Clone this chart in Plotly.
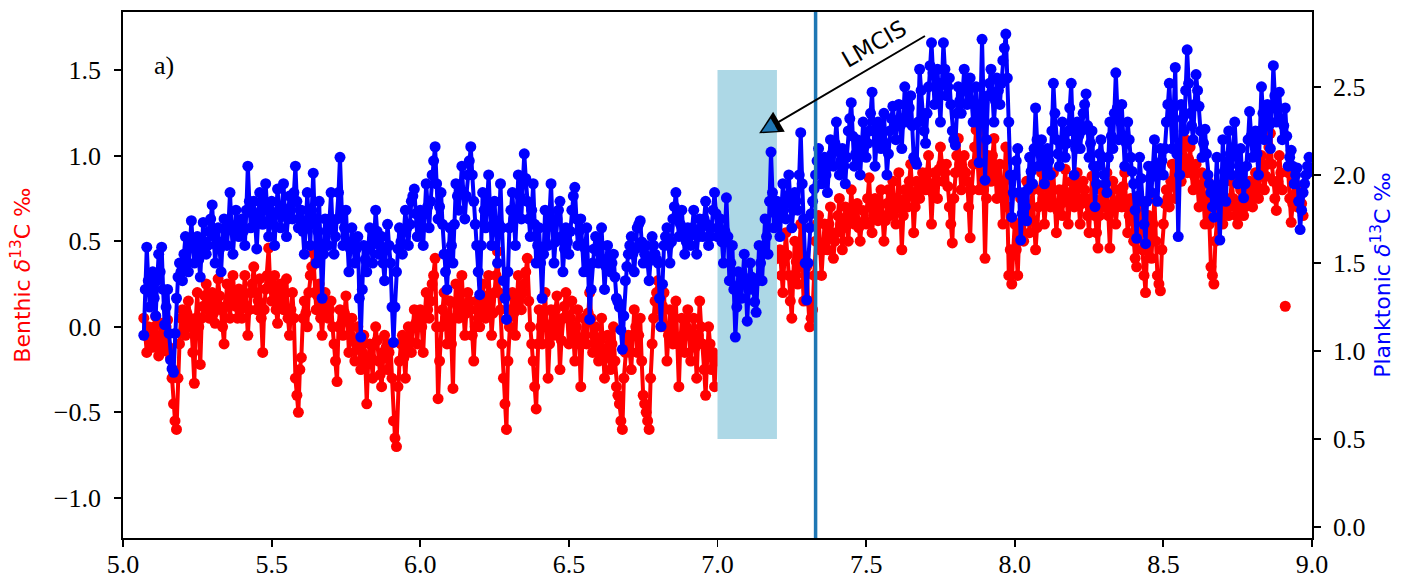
import plotly.graph_objects as go

# ---------------- data ----------------
benthic_age = [
    5.070, 5.075, 5.080, 5.085, 5.090, 5.095,
    5.100, 5.105, 5.110, 5.115, 5.120, 5.125, 5.130, 5.135, 5.140, 5.145, 5.150, 5.155, 5.160, 5.165, 5.170, 5.175, 5.180, 5.185, 5.190, 5.195,
    5.200, 5.205, 5.210, 5.215, 5.220, 5.225, 5.230, 5.235, 5.240, 5.245, 5.250, 5.255, 5.260, 5.265, 5.270, 5.275, 5.280, 5.285, 5.290, 5.295,
    5.300, 5.305, 5.310, 5.315, 5.320, 5.325, 5.330, 5.335, 5.340, 5.345, 5.350, 5.355, 5.360, 5.365, 5.370, 5.375, 5.380, 5.385, 5.390, 5.395,
    5.400, 5.405, 5.410, 5.415, 5.420, 5.425, 5.430, 5.435, 5.440, 5.445, 5.450, 5.455, 5.460, 5.465, 5.470, 5.475, 5.480, 5.485, 5.490, 5.495,
    5.500, 5.505, 5.510, 5.515, 5.520, 5.525, 5.530, 5.535, 5.540, 5.545, 5.550, 5.555, 5.560, 5.565, 5.570, 5.575, 5.580, 5.585, 5.590, 5.595,
    5.600, 5.605, 5.610, 5.615, 5.620, 5.625, 5.630, 5.635, 5.640, 5.645, 5.650, 5.655, 5.660, 5.665, 5.670, 5.675, 5.680, 5.685, 5.690, 5.695,
    5.700, 5.705, 5.710, 5.715, 5.720, 5.725, 5.730, 5.735, 5.740, 5.745, 5.750, 5.755, 5.760, 5.765, 5.770, 5.775, 5.780, 5.785, 5.790, 5.795,
    5.800, 5.805, 5.810, 5.815, 5.820, 5.825, 5.830, 5.835, 5.840, 5.845, 5.850, 5.855, 5.860, 5.865, 5.870, 5.875, 5.880, 5.885, 5.890, 5.895,
    5.900, 5.905, 5.910, 5.915, 5.920, 5.925, 5.930, 5.935, 5.940, 5.945, 5.950, 5.955, 5.960, 5.965, 5.970, 5.975, 5.980, 5.985, 5.990, 5.995,
    6.000, 6.005, 6.010, 6.015, 6.020, 6.025, 6.030, 6.035, 6.040, 6.045, 6.050, 6.055, 6.060, 6.065, 6.070, 6.075, 6.080, 6.085, 6.090, 6.095,
    6.100, 6.105, 6.110, 6.115, 6.120, 6.125, 6.130, 6.135, 6.140, 6.145, 6.150, 6.155, 6.160, 6.165, 6.170, 6.175, 6.180, 6.185, 6.190, 6.195,
    6.200, 6.205, 6.210, 6.215, 6.220, 6.225, 6.230, 6.235, 6.240, 6.245, 6.250, 6.255, 6.260, 6.265, 6.270, 6.275, 6.280, 6.285, 6.290, 6.295,
    6.300, 6.305, 6.310, 6.315, 6.320, 6.325, 6.330, 6.335, 6.340, 6.345, 6.350, 6.355, 6.360, 6.365, 6.370, 6.375, 6.380, 6.385, 6.390, 6.395,
    6.400, 6.405, 6.410, 6.415, 6.420, 6.425, 6.430, 6.435, 6.440, 6.445, 6.450, 6.455, 6.460, 6.465, 6.470, 6.475, 6.480, 6.485, 6.490, 6.495,
    6.500, 6.505, 6.510, 6.515, 6.520, 6.525, 6.530, 6.535, 6.540, 6.545, 6.550, 6.555, 6.560, 6.565, 6.570, 6.575, 6.580, 6.585, 6.590, 6.595,
    6.600, 6.605, 6.610, 6.615, 6.620, 6.625, 6.630, 6.635, 6.640, 6.645, 6.650, 6.655, 6.660, 6.665, 6.670, 6.675, 6.680, 6.685, 6.690, 6.695,
    6.700, 6.705, 6.710, 6.715, 6.720, 6.725, 6.730, 6.735, 6.740, 6.745, 6.750, 6.755, 6.760, 6.765, 6.770, 6.775, 6.780, 6.785, 6.790, 6.795,
    6.800, 6.805, 6.810, 6.815, 6.820, 6.825, 6.830, 6.835, 6.840, 6.845, 6.850, 6.855, 6.860, 6.865, 6.870, 6.875, 6.880, 6.885, 6.890, 6.895,
    6.900, 6.905, 6.910, 6.915, 6.920, 6.925, 6.930, 6.935, 6.940, 6.945, 6.950, 6.955, 6.960, 6.965, 6.970, 6.975, 6.980, 6.985, 6.990, 6.995,
    7.205, 7.210, 7.215, 7.220, 7.225, 7.230, 7.235, 7.240, 7.245, 7.250, 7.255, 7.260, 7.265, 7.270, 7.275, 7.280, 7.285, 7.290, 7.295,
    7.300, 7.305, 7.310, 7.315, 7.320, 7.325, 7.330, 7.335, 7.340, 7.345, 7.350, 7.355, 7.360, 7.365, 7.370, 7.375, 7.380, 7.385, 7.390, 7.395,
    7.400, 7.405, 7.410, 7.415, 7.420, 7.425, 7.430, 7.435, 7.440, 7.445, 7.450, 7.455, 7.460, 7.465, 7.470, 7.475, 7.480, 7.485, 7.490, 7.495,
    7.500, 7.505, 7.510, 7.515, 7.520, 7.525, 7.530, 7.535, 7.540, 7.545, 7.550, 7.555, 7.560, 7.565, 7.570, 7.575, 7.580, 7.585, 7.590, 7.595,
    7.600, 7.605, 7.610, 7.615, 7.620, 7.625, 7.630, 7.635, 7.640, 7.645, 7.650, 7.655, 7.660, 7.665, 7.670, 7.675, 7.680, 7.685, 7.690, 7.695,
    7.700, 7.705, 7.710, 7.715, 7.720, 7.725, 7.730, 7.735, 7.740, 7.745, 7.750, 7.755, 7.760, 7.765, 7.770, 7.775, 7.780, 7.785, 7.790, 7.795,
    7.800, 7.805, 7.810, 7.815, 7.820, 7.825, 7.830, 7.835, 7.840, 7.845, 7.850, 7.855, 7.860, 7.865, 7.870, 7.875, 7.880, 7.885, 7.890, 7.895,
    7.900, 7.905, 7.910, 7.915, 7.920, 7.925, 7.930, 7.935, 7.940, 7.945, 7.950, 7.955, 7.960, 7.965, 7.970, 7.975, 7.980, 7.985, 7.990, 7.995,
    8.000, 8.005, 8.010, 8.015, 8.020, 8.025, 8.030, 8.035, 8.040, 8.045, 8.050, 8.055, 8.060, 8.065, 8.070, 8.075, 8.080, 8.085, 8.090, 8.095,
    8.100, 8.105, 8.110, 8.115, 8.120, 8.125, 8.130, 8.135, 8.140, 8.145, 8.150, 8.155, 8.160, 8.165, 8.170, 8.175, 8.180, 8.185, 8.190, 8.195,
    8.200, 8.205, 8.210, 8.215, 8.220, 8.225, 8.230, 8.235, 8.240, 8.245, 8.250, 8.255, 8.260, 8.265, 8.270, 8.275, 8.280, 8.285, 8.290, 8.295,
    8.300, 8.305, 8.310, 8.315, 8.320, 8.325, 8.330, 8.335, 8.340, 8.345, 8.350, 8.355, 8.360, 8.365, 8.370, 8.375, 8.380, 8.385, 8.390, 8.395,
    8.400, 8.405, 8.410, 8.415, 8.420, 8.425, 8.430, 8.435, 8.440, 8.445, 8.450, 8.455, 8.460, 8.465, 8.470, 8.475, 8.480, 8.485, 8.490, 8.495,
    8.500, 8.505, 8.510, 8.515, 8.520, 8.525, 8.530, 8.535, 8.540, 8.545, 8.550, 8.555, 8.560, 8.565, 8.570, 8.575, 8.580, 8.585, 8.590, 8.595,
    8.600, 8.605, 8.610, 8.615, 8.620, 8.625, 8.630, 8.635, 8.640, 8.645, 8.650, 8.655, 8.660, 8.665, 8.670, 8.675, 8.680, 8.685, 8.690, 8.695,
    8.700, 8.705, 8.710, 8.715, 8.720, 8.725, 8.730, 8.735, 8.740, 8.745, 8.750, 8.755, 8.760, 8.765, 8.770, 8.775, 8.780, 8.785, 8.790, 8.795,
    8.800, 8.805, 8.810, 8.815, 8.820, 8.825, 8.830, 8.835, 8.840, 8.845, 8.850, 8.855, 8.860, 8.865, 8.870, 8.875, 8.880, 8.885, 8.890, 8.895,
    8.900, 8.905, 8.910, 8.915, 8.920, 8.925, 8.930, 8.935, 8.940, 8.945, 8.950, 8.955, 8.960, 8.965, 8.970,
]
benthic_d13c = [
    0.05, -0.05, -0.15, 0.00, -0.02, -0.10,
    -0.12, 0.00, 0.06, -0.08, -0.17, -0.05, 0.02, -0.10, -0.14, 0.00, 0.04, -0.12, -0.18, -0.30, -0.45, -0.55, -0.60, -0.30, -0.10, 0.05,
    0.10, -0.02, -0.05, 0.08, 0.15, 0.05, 0.00, -0.15, -0.33, 0.05, 0.20, 0.00, -0.22, 0.05, 0.12, 0.18, 0.25, 0.10, 0.05, 0.15,
    0.20, 0.08, 0.02, 0.15, 0.28, 0.18, 0.10, 0.00, -0.10, 0.12, 0.25, 0.15, 0.05, 0.20, 0.30, 0.18, 0.12, 0.05, 0.22, 0.10,
    0.05, 0.18, 0.30, 0.12, -0.05, 0.10, 0.20, 0.25, 0.35, 0.20, 0.10, 0.15, 0.28, 0.05, -0.15, 0.10, 0.22, 0.30, 0.46, 0.25,
    0.15, 0.22, 0.30, 0.10, 0.02, 0.18, 0.25, 0.12, 0.10, 0.20, 0.28, 0.05, -0.05, 0.10, 0.20, 0.05, -0.30, -0.40, -0.50, -0.25,
    -0.18, 0.05, 0.15, 0.08, 0.00, 0.20, 0.30, 0.35, 0.43, 0.20, 0.10, 0.18, 0.25, 0.05, -0.05, 0.10, 0.20, 0.12, 0.05, 0.10,
    0.15, 0.00, -0.10, -0.20, -0.32, 0.00, 0.10, 0.02, -0.05, 0.08, 0.18, 0.05, -0.15, -0.05, 0.05, -0.08, -0.20, -0.10, 0.00, -0.12,
    -0.25, -0.15, -0.05, -0.20, -0.45, -0.20, -0.10, -0.18, -0.30, -0.10, 0.00, -0.08, -0.20, -0.28, -0.35, -0.15, -0.05, -0.12, -0.25, -0.15,
    -0.10, -0.30, -0.55, -0.65, -0.70, -0.35, -0.20, -0.10, -0.05, -0.18, -0.30, -0.12, 0.00, -0.08, -0.15, 0.00, 0.10, 0.02, -0.10, 0.05,
    0.10, 0.00, -0.15, 0.05, 0.20, 0.10, 0.05, 0.15, 0.25, 0.30, 0.40, 0.00, -0.42, -0.20, 0.00, 0.10, 0.20, 0.05, -0.10, 0.05,
    0.15, -0.10, -0.36, 0.05, 0.25, 0.12, 0.05, 0.20, 0.30, 0.10, -0.05, 0.08, 0.20, 0.15, 0.10, -0.05, -0.20, 0.00, 0.15, 0.05,
    0.00, 0.12, 0.25, 0.10, 0.05, 0.18, 0.30, 0.15, -0.05, 0.08, 0.20, 0.30, 0.44, 0.20, 0.10, -0.10, -0.30, -0.45, -0.60, -0.20,
    0.00, 0.10, 0.20, 0.08, -0.05, 0.15, 0.30, 0.18, 0.10, 0.20, 0.25, 0.32, 0.40, 0.15, 0.00, -0.10, -0.20, -0.35, -0.48, -0.10,
    0.10, 0.00, -0.10, 0.08, 0.20, 0.00, -0.30, -0.10, 0.10, 0.02, -0.05, 0.10, 0.18, 0.00, -0.25, -0.08, 0.05, 0.12, 0.20, 0.05,
    -0.10, 0.05, 0.15, -0.05, -0.20, 0.00, 0.10, -0.10, -0.35, -0.10, 0.05, -0.05, -0.10, 0.08, 0.20, 0.05, -0.15, -0.05, 0.00, -0.12,
    -0.20, -0.08, 0.05, -0.15, -0.30, -0.15, -0.05, -0.18, -0.25, -0.10, 0.00, -0.20, -0.35, -0.40, -0.45, -0.55, -0.60, -0.30, -0.15, -0.08,
    -0.05, -0.15, -0.25, -0.05, 0.10, 0.00, -0.15, -0.05, 0.05, -0.20, -0.40, -0.45, -0.50, -0.55, -0.60, -0.30, -0.10, 0.05, 0.15, 0.20,
    0.27, 0.10, 0.00, 0.12, 0.20, 0.00, -0.20, -0.05, 0.10, 0.00, -0.10, 0.05, 0.15, -0.10, -0.35, -0.10, 0.05, -0.05, -0.15, 0.00,
    0.10, -0.05, -0.20, -0.05, 0.05, -0.12, -0.30, -0.05, 0.15, 0.00, -0.10, -0.25, -0.40, -0.15, 0.00, -0.10, -0.25, -0.15, -0.35, -0.20,
    0.40, 0.45, 0.30, 0.20, 0.40, 0.55, 0.42, 0.30, 0.15, 0.05, 0.30, 0.50, 0.38, 0.25, 0.45, 0.60, 0.35, 0.15, 0.30,
    0.35, 0.15, 0.00, 0.05, 0.10, 0.30, 0.50, 0.60, 0.65, 0.45, 0.30, 0.45, 0.60, 0.50, 0.45, 0.60, 0.70, 0.55, 0.40, 0.50,
    0.55, 0.65, 0.75, 0.60, 0.45, 0.58, 0.70, 0.62, 0.50, 0.65, 0.80, 0.68, 0.60, 0.70, 0.72, 0.58, 0.50, 0.60, 0.68, 0.62,
    0.60, 0.75, 0.87, 0.70, 0.55, 0.65, 0.75, 0.68, 0.62, 0.72, 0.80, 0.65, 0.50, 0.62, 0.72, 0.80, 0.65, 0.75, 0.85, 0.70,
    0.60, 0.75, 0.90, 0.70, 0.45, 0.65, 0.80, 0.75, 0.70, 0.85, 0.95, 0.78, 0.55, 0.70, 0.85, 0.80, 0.75, 0.82, 0.90, 0.85,
    0.80, 0.90, 1.00, 0.80, 0.60, 0.78, 0.90, 0.85, 0.75, 0.92, 1.05, 0.95, 0.85, 0.90, 0.95, 0.82, 0.70, 0.60, 0.49, 0.75,
    0.90, 1.00, 1.10, 0.95, 0.80, 0.92, 1.00, 0.90, 0.85, 0.70, 0.52, 0.80, 0.95, 1.05, 1.15, 0.98, 0.80, 1.00, 1.19, 0.80,
    0.40, 0.75, 1.00, 0.92, 0.85, 1.00, 1.10, 0.90, 0.75, 0.85, 0.95, 0.80, 0.60, 0.85, 1.05, 0.70, 0.30, 0.45, 0.25, 0.45,
    0.60, 0.45, 0.30, 0.55, 0.75, 0.62, 0.50, 0.70, 0.85, 0.68, 0.55, 0.70, 0.80, 0.62, 0.45, 0.58, 0.70, 0.80, 0.90, 0.75,
    0.60, 0.72, 0.85, 0.75, 0.70, 0.80, 0.90, 0.72, 0.55, 0.68, 0.80, 0.72, 0.65, 0.80, 0.92, 0.75, 0.60, 0.72, 0.85, 0.78,
    0.70, 0.82, 0.90, 0.72, 0.60, 0.72, 0.85, 0.80, 0.75, 0.65, 0.55, 0.72, 0.88, 0.75, 0.65, 0.55, 0.46, 0.65, 0.80, 0.75,
    0.70, 0.80, 0.90, 0.65, 0.46, 0.68, 0.85, 0.72, 0.60, 0.70, 0.80, 0.75, 0.70, 0.82, 0.90, 0.70, 0.55, 0.65, 0.75, 0.62,
    0.50, 0.40, 0.35, 0.55, 0.70, 0.55, 0.45, 0.30, 0.20, 0.45, 0.65, 0.50, 0.40, 0.60, 0.75, 0.50, 0.30, 0.25, 0.21, 0.45,
    0.60, 0.72, 0.80, 0.75, 0.70, 0.85, 0.95, 0.82, 0.75, 0.90, 1.00, 0.92, 0.85, 0.98, 1.10, 0.95, 0.90, 0.98, 1.05, 0.90,
    0.80, 0.88, 0.95, 0.82, 0.70, 0.82, 0.90, 0.75, 0.60, 0.75, 0.85, 0.60, 0.35, 0.30, 0.25, 0.50, 0.65, 0.72, 0.80, 0.70,
    0.60, 0.68, 0.75, 0.70, 0.65, 0.75, 0.85, 0.75, 0.70, 0.65, 0.60, 0.70, 0.80, 0.72, 0.65, 0.70, 0.75, 0.80, 0.85, 0.78,
    0.70, 0.80, 0.90, 0.82, 0.75, 0.88, 1.00, 0.90, 0.80, 0.88, 0.95, 1.05, 1.13, 0.95, 0.85, 0.75, 0.68, 0.85, 1.00, 0.90,
    0.80, None, 0.12, None, 0.90, 0.75, 0.61, 0.72, 0.85, 0.78, 0.70, 0.75, 0.80, 0.72, 0.65,
]

planktonic_age = [
    5.070, 5.075, 5.080, 5.085, 5.090, 5.095,
    5.100, 5.105, 5.110, 5.115, 5.120, 5.125, 5.130, 5.135, 5.140, 5.145, 5.150, 5.155, 5.160, 5.165, 5.170, 5.175, 5.180, 5.185, 5.190, 5.195,
    5.200, 5.205, 5.210, 5.215, 5.220, 5.225, 5.230, 5.235, 5.240, 5.245, 5.250, 5.255, 5.260, 5.265, 5.270, 5.275, 5.280, 5.285, 5.290, 5.295,
    5.300, 5.305, 5.310, 5.315, 5.320, 5.325, 5.330, 5.335, 5.340, 5.345, 5.350, 5.355, 5.360, 5.365, 5.370, 5.375, 5.380, 5.385, 5.390, 5.395,
    5.400, 5.405, 5.410, 5.415, 5.420, 5.425, 5.430, 5.435, 5.440, 5.445, 5.450, 5.455, 5.460, 5.465, 5.470, 5.475, 5.480, 5.485, 5.490, 5.495,
    5.500, 5.505, 5.510, 5.515, 5.520, 5.525, 5.530, 5.535, 5.540, 5.545, 5.550, 5.555, 5.560, 5.565, 5.570, 5.575, 5.580, 5.585, 5.590, 5.595,
    5.600, 5.605, 5.610, 5.615, 5.620, 5.625, 5.630, 5.635, 5.640, 5.645, 5.650, 5.655, 5.660, 5.665, 5.670, 5.675, 5.680, 5.685, 5.690, 5.695,
    5.700, 5.705, 5.710, 5.715, 5.720, 5.725, 5.730, 5.735, 5.740, 5.745, 5.750, 5.755, 5.760, 5.765, 5.770, 5.775, 5.780, 5.785, 5.790, 5.795,
    5.800, 5.805, 5.810, 5.815, 5.820, 5.825, 5.830, 5.835, 5.840, 5.845, 5.850, 5.855, 5.860, 5.865, 5.870, 5.875, 5.880, 5.885, 5.890, 5.895,
    5.900, 5.905, 5.910, 5.915, 5.920, 5.925, 5.930, 5.935, 5.940, 5.945, 5.950, 5.955, 5.960, 5.965, 5.970, 5.975, 5.980, 5.985, 5.990, 5.995,
    6.000, 6.005, 6.010, 6.015, 6.020, 6.025, 6.030, 6.035, 6.040, 6.045, 6.050, 6.055, 6.060, 6.065, 6.070, 6.075, 6.080, 6.085, 6.090, 6.095,
    6.100, 6.105, 6.110, 6.115, 6.120, 6.125, 6.130, 6.135, 6.140, 6.145, 6.150, 6.155, 6.160, 6.165, 6.170, 6.175, 6.180, 6.185, 6.190, 6.195,
    6.200, 6.205, 6.210, 6.215, 6.220, 6.225, 6.230, 6.235, 6.240, 6.245, 6.250, 6.255, 6.260, 6.265, 6.270, 6.275, 6.280, 6.285, 6.290, 6.295,
    6.300, 6.305, 6.310, 6.315, 6.320, 6.325, 6.330, 6.335, 6.340, 6.345, 6.350, 6.355, 6.360, 6.365, 6.370, 6.375, 6.380, 6.385, 6.390, 6.395,
    6.400, 6.405, 6.410, 6.415, 6.420, 6.425, 6.430, 6.435, 6.440, 6.445, 6.450, 6.455, 6.460, 6.465, 6.470, 6.475, 6.480, 6.485, 6.490, 6.495,
    6.500, 6.505, 6.510, 6.515, 6.520, 6.525, 6.530, 6.535, 6.540, 6.545, 6.550, 6.555, 6.560, 6.565, 6.570, 6.575, 6.580, 6.585, 6.590, 6.595,
    6.600, 6.605, 6.610, 6.615, 6.620, 6.625, 6.630, 6.635, 6.640, 6.645, 6.650, 6.655, 6.660, 6.665, 6.670, 6.675, 6.680, 6.685, 6.690, 6.695,
    6.700, 6.705, 6.710, 6.715, 6.720, 6.725, 6.730, 6.735, 6.740, 6.745, 6.750, 6.755, 6.760, 6.765, 6.770, 6.775, 6.780, 6.785, 6.790, 6.795,
    6.800, 6.805, 6.810, 6.815, 6.820, 6.825, 6.830, 6.835, 6.840, 6.845, 6.850, 6.855, 6.860, 6.865, 6.870, 6.875, 6.880, 6.885, 6.890, 6.895,
    6.900, 6.905, 6.910, 6.915, 6.920, 6.925, 6.930, 6.935, 6.940, 6.945, 6.950, 6.955, 6.960, 6.965, 6.970, 6.975, 6.980, 6.985, 6.990, 6.995,
    7.000, 7.005, 7.010, 7.015, 7.020, 7.025, 7.030, 7.035, 7.040, 7.045, 7.050, 7.055, 7.060, 7.065, 7.070, 7.075, 7.080, 7.085, 7.090, 7.095,
    7.100, 7.105, 7.110, 7.115, 7.120, 7.125, 7.130, 7.135, 7.140, 7.145, 7.150, 7.155, 7.160, 7.165, 7.170, 7.175, 7.180, 7.185, 7.190, 7.195,
    7.200, 7.205, 7.210, 7.215, 7.220, 7.225, 7.230, 7.235, 7.240, 7.245, 7.250, 7.255, 7.260, 7.265, 7.270, 7.275, 7.280, 7.285, 7.290, 7.295,
    7.300, 7.305, 7.310, 7.315, 7.320, 7.325, 7.330, 7.335, 7.340, 7.345, 7.350, 7.355, 7.360, 7.365, 7.370, 7.375, 7.380, 7.385, 7.390, 7.395,
    7.400, 7.405, 7.410, 7.415, 7.420, 7.425, 7.430, 7.435, 7.440, 7.445, 7.450, 7.455, 7.460, 7.465, 7.470, 7.475, 7.480, 7.485, 7.490, 7.495,
    7.500, 7.505, 7.510, 7.515, 7.520, 7.525, 7.530, 7.535, 7.540, 7.545, 7.550, 7.555, 7.560, 7.565, 7.570, 7.575, 7.580, 7.585, 7.590, 7.595,
    7.600, 7.605, 7.610, 7.615, 7.620, 7.625, 7.630, 7.635, 7.640, 7.645, 7.650, 7.655, 7.660, 7.665, 7.670, 7.675, 7.680, 7.685, 7.690, 7.695,
    7.700, 7.705, 7.710, 7.715, 7.720, 7.725, 7.730, 7.735, 7.740, 7.745, 7.750, 7.755, 7.760, 7.765, 7.770, 7.775, 7.780, 7.785, 7.790, 7.795,
    7.800, 7.805, 7.810, 7.815, 7.820, 7.825, 7.830, 7.835, 7.840, 7.845, 7.850, 7.855, 7.860, 7.865, 7.870, 7.875, 7.880, 7.885, 7.890, 7.895,
    7.900, 7.905, 7.910, 7.915, 7.920, 7.925, 7.930, 7.935, 7.940, 7.945, 7.950, 7.955, 7.960, 7.965, 7.970, 7.975, 7.980, 7.985, 7.990, 7.995,
    8.000, 8.005, 8.010, 8.015, 8.020, 8.025, 8.030, 8.035, 8.040, 8.045, 8.050, 8.055, 8.060, 8.065, 8.070, 8.075, 8.080, 8.085, 8.090, 8.095,
    8.100, 8.105, 8.110, 8.115, 8.120, 8.125, 8.130, 8.135, 8.140, 8.145, 8.150, 8.155, 8.160, 8.165, 8.170, 8.175, 8.180, 8.185, 8.190, 8.195,
    8.200, 8.205, 8.210, 8.215, 8.220, 8.225, 8.230, 8.235, 8.240, 8.245, 8.250, 8.255, 8.260, 8.265, 8.270, 8.275, 8.280, 8.285, 8.290, 8.295,
    8.300, 8.305, 8.310, 8.315, 8.320, 8.325, 8.330, 8.335, 8.340, 8.345, 8.350, 8.355, 8.360, 8.365, 8.370, 8.375, 8.380, 8.385, 8.390, 8.395,
    8.400, 8.405, 8.410, 8.415, 8.420, 8.425, 8.430, 8.435, 8.440, 8.445, 8.450, 8.455, 8.460, 8.465, 8.470, 8.475, 8.480, 8.485, 8.490, 8.495,
    8.500, 8.505, 8.510, 8.515, 8.520, 8.525, 8.530, 8.535, 8.540, 8.545, 8.550, 8.555, 8.560, 8.565, 8.570, 8.575, 8.580, 8.585, 8.590, 8.595,
    8.600, 8.605, 8.610, 8.615, 8.620, 8.625, 8.630, 8.635, 8.640, 8.645, 8.650, 8.655, 8.660, 8.665, 8.670, 8.675, 8.680, 8.685, 8.690, 8.695,
    8.700, 8.705, 8.710, 8.715, 8.720, 8.725, 8.730, 8.735, 8.740, 8.745, 8.750, 8.755, 8.760, 8.765, 8.770, 8.775, 8.780, 8.785, 8.790, 8.795,
    8.800, 8.805, 8.810, 8.815, 8.820, 8.825, 8.830, 8.835, 8.840, 8.845, 8.850, 8.855, 8.860, 8.865, 8.870, 8.875, 8.880, 8.885, 8.890, 8.895,
    8.900, 8.905, 8.910, 8.915, 8.920, 8.925, 8.930, 8.935, 8.940, 8.945, 8.950, 8.955, 8.960, 8.965, 8.970, 8.975, 8.980, 8.985, 8.990, 8.995,
]
planktonic_d13c = [
    1.09, 1.35, 1.59, 1.40, 1.25, 1.35,
    1.45, 1.30, 1.20, 1.40, 1.55, 1.45, 1.59, 1.35, 1.15, 1.25, 1.35, 1.10, 0.95, 0.90, 0.88, 1.10, 1.30, 1.42, 1.50, 1.45,
    1.40, 1.55, 1.65, 1.50, 1.45, 1.60, 1.74, 1.60, 1.50, 1.58, 1.65, 1.52, 1.42, 1.60, 1.73, 1.62, 1.55, 1.60, 1.68, 1.75,
    1.83, 1.65, 1.50, 1.60, 1.70, 1.58, 1.45, 1.62, 1.75, 1.68, 1.60, 1.72, 1.90, 1.70, 1.55, 1.68, 1.80, 1.72, 1.65, 1.70,
    1.75, 1.68, 1.60, 1.80, 2.05, 1.85, 1.70, 1.78, 1.85, 1.72, 1.58, 1.75, 1.90, 1.80, 1.72, 1.85, 1.95, 1.80, 1.65, 1.75,
    1.85, 1.72, 1.60, 1.78, 1.92, 1.80, 1.70, 1.82, 1.95, 1.78, 1.65, 1.75, 1.88, 1.80, 1.75, 1.90, 2.05, 1.85, 1.70, 1.75,
    1.80, 1.68, 1.55, 1.72, 1.90, 1.75, 1.60, 1.80, 2.01, 1.75, 1.50, 1.68, 1.85, 1.55, 1.30, 1.55, 1.75, 1.68, 1.60, 1.75,
    1.90, 1.70, 1.55, 1.65, 1.75, 1.90, 2.10, 1.80, 1.60, 1.70, 1.80, 1.62, 1.45, 1.58, 1.70, 1.60, 1.50, 1.58, 1.65, 1.30,
    1.08, 1.35, 1.60, 1.52, 1.45, 1.58, 1.70, 1.60, 1.50, 1.65, 1.80, 1.68, 1.55, 1.60, 1.65, 1.50, 1.40, 1.58, 1.72, 1.60,
    1.50, 1.25, 1.05, 1.25, 1.45, 1.58, 1.70, 1.62, 1.55, 1.68, 1.80, 1.70, 1.60, 1.72, 1.85, 1.88, 1.92, 1.78, 1.65, 1.72,
    1.80, 1.70, 1.60, 1.78, 1.95, 1.82, 1.70, 1.85, 2.00, 2.08, 2.16, 1.95, 1.75, 1.82, 1.90, 1.72, 1.55, 1.45, 1.35, 1.55,
    1.70, 1.60, 1.50, 1.72, 1.95, 1.88, 1.80, 1.92, 2.05, 1.90, 1.75, 1.88, 2.00, 2.08, 2.16, 2.00, 1.85, 1.72, 1.60, 1.45,
    1.32, 1.60, 1.90, 1.80, 1.70, 1.85, 2.00, 1.80, 1.60, 1.72, 1.85, 1.68, 1.50, 1.72, 1.95, 1.70, 1.40, 1.30, 1.18, 1.45,
    1.70, 1.80, 1.90, 1.75, 1.60, 1.80, 2.00, 1.88, 1.75, 1.95, 2.12, 1.98, 1.85, 1.75, 1.65, 1.80, 1.95, 1.72, 1.50, 1.60,
    1.70, 1.50, 1.30, 1.55, 1.80, 1.70, 1.60, 1.78, 1.95, 1.72, 1.50, 1.62, 1.75, 1.80, 1.85, 1.65, 1.45, 1.58, 1.70, 1.62,
    1.55, 1.68, 1.80, 1.88, 1.93, 1.75, 1.60, 1.68, 1.75, 1.60, 1.45, 1.58, 1.70, 1.45, 1.18, 1.35, 1.50, 1.58, 1.65, 1.58,
    1.50, 1.60, 1.70, 1.52, 1.35, 1.48, 1.60, 1.52, 1.45, 1.50, 1.55, 1.42, 1.30, 1.28, 1.25, 1.12, 1.01, 1.20, 1.40, 1.48,
    1.55, 1.60, 1.65, 1.55, 1.45, 1.58, 1.70, 1.72, 1.74, 1.62, 1.50, 1.55, 1.60, 1.50, 1.40, 1.52, 1.65, 1.60, 1.55, 1.52,
    1.50, 1.30, 1.14, 1.38, 1.60, 1.65, 1.70, 1.60, 1.50, 1.62, 1.75, 1.82, 1.90, 1.78, 1.65, 1.72, 1.80, 1.68, 1.55, 1.62,
    1.70, 1.65, 1.60, 1.70, 1.80, 1.68, 1.55, 1.65, 1.75, 1.70, 1.65, 1.75, 1.85, 1.72, 1.60, 1.65, 1.70, 1.80, 1.90, 1.78,
    1.65, 1.70, 1.75, 1.62, 1.50, 1.68, 1.87, 1.65, 1.40, 1.50, 1.60, 1.35, 1.08, 1.25, 1.45, 1.38, 1.30, 1.42, 1.55, 1.38,
    1.17, 1.35, 1.50, 1.42, 1.35, 1.28, 1.22, 1.40, 1.60, 1.50, 1.40, 1.58, 1.75, 1.65, 1.55, 1.85, 2.13, 1.90, 1.70, 1.78,
    1.85, 1.75, 1.65, 1.80, 1.95, 1.85, 1.75, 1.88, 2.00, 1.85, 1.70, 1.80, 1.90, 1.85, 1.80, 2.00, 2.24, 1.95, 1.75, 1.50,
    1.29, 1.50, 1.70, 1.78, 1.85, 1.92, 2.00, 2.08, 2.15, 2.05, 1.95, 2.02, 2.10, 2.00, 1.90, 2.05, 2.20, 2.12, 2.05, 2.18,
    2.30, 2.15, 2.00, 2.08, 2.15, 2.05, 1.95, 2.10, 2.25, 2.32, 2.41, 2.22, 2.05, 2.12, 2.20, 2.10, 2.00, 2.15, 2.30, 2.20,
    2.10, 2.18, 2.25, 2.35, 2.47, 2.25, 2.05, 2.18, 2.30, 2.22, 2.15, 2.25, 2.35, 2.18, 2.00, 2.12, 2.25, 2.32, 2.39, 2.30,
    2.20, 2.30, 2.40, 2.28, 2.15, 2.32, 2.50, 2.40, 2.30, 2.38, 2.45, 2.28, 2.10, 2.08, 2.06, 2.30, 2.60, 2.48, 2.35, 2.25,
    2.18, 2.35, 2.50, 2.62, 2.75, 2.58, 2.40, 2.50, 2.60, 2.45, 2.30, 2.52, 2.75, 2.60, 2.45, 2.50, 2.55, 2.40, 2.25, 2.20,
    2.17, 2.35, 2.50, 2.42, 2.35, 2.48, 2.60, 2.50, 2.40, 2.48, 2.55, 2.42, 2.30, 2.40, 2.50, 2.30, 2.07, 2.40, 2.77, 2.40,
    1.97, 2.20, 2.45, 2.52, 2.60, 2.45, 2.30, 2.42, 2.55, 2.48, 2.40, 2.52, 2.65, 2.72, 2.80, 2.55, 2.30, 2.00, 1.76, 1.90,
    2.00, 2.08, 2.15, 1.90, 1.63, 1.78, 1.90, 1.82, 1.74, 1.92, 2.10, 2.02, 1.95, 2.15, 2.38, 2.20, 2.05, 2.12, 2.20, 2.08,
    1.95, 2.05, 2.15, 2.08, 2.00, 2.25, 2.52, 2.35, 2.20, 2.12, 2.05, 2.18, 2.30, 2.20, 2.10, 2.18, 2.25, 2.38, 2.52, 2.25,
    2.00, 2.15, 2.30, 2.22, 2.15, 2.25, 2.35, 2.40, 2.46, 2.28, 2.10, 2.18, 2.25, 2.05, 1.82, 1.95, 2.05, 2.12, 2.20, 2.10,
    2.00, 1.95, 1.90, 2.10, 2.30, 2.22, 2.15, 2.35, 2.58, 2.38, 2.20, 2.30, 2.40, 2.22, 2.05, 2.18, 2.30, 2.20, 2.10, 2.02,
    1.95, 1.80, 1.64, 1.88, 2.10, 1.98, 1.85, 1.72, 1.61, 1.85, 2.05, 1.98, 1.90, 2.05, 2.20, 2.02, 1.85, 2.00, 2.15, 2.08,
    2.00, 2.15, 2.30, 2.40, 2.52, 2.32, 2.15, 2.38, 2.61, 2.12, 1.65, 2.00, 2.40, 2.32, 2.25, 2.48, 2.71, 2.52, 2.35, 2.28,
    2.20, 2.40, 2.57, 2.48, 2.39, 2.25, 2.10, 2.18, 2.26, 2.12, 2.00, 1.95, 1.90, 1.82, 1.76, 1.92, 2.10, 1.85, 1.63, 1.90,
    2.20, 2.02, 1.85, 2.05, 2.25, 2.12, 2.00, 2.15, 2.30, 2.12, 1.95, 2.05, 2.15, 2.00, 1.87, 1.95, 2.05, 2.20, 2.36, 2.22,
    2.10, 2.18, 2.25, 2.12, 2.00, 2.25, 2.50, 2.35, 2.20, 2.30, 2.40, 2.28, 2.15, 2.38, 2.62, 2.45, 2.30, 2.38, 2.47, 2.32,
    2.20, 2.28, 2.38, 2.22, 2.05, 2.10, 2.14, 2.05, 1.95, 2.00, 2.04, 1.85, 1.69, 1.80, 1.90, 1.95, 2.00, 2.05, 2.10, 2.02,
]

assert len(benthic_age) == len(benthic_d13c), (len(benthic_age), len(benthic_d13c))
assert len(planktonic_age) == len(planktonic_d13c), (len(planktonic_age), len(planktonic_d13c))

# shaded interval, event line and annotations
band_age = [7.0, 7.2]
band_d13c = [-0.656, 1.5]
event_age = 7.33
arrow_tip = (7.140, 1.130)
arrow_tail = (7.703, 1.704)
label_pos = (7.526, 1.652)
panel_pos = (5.138, 1.529)

x_ticks = [5.0, 5.5, 6.0, 6.5, 7.0, 7.5, 8.0, 8.5, 9.0]
left_ticks = [-1.0, -0.5, 0.0, 0.5, 1.0, 1.5]
right_ticks = [0.0, 0.5, 1.0, 1.5, 2.0, 2.5]

TICK_FONT = dict(family="Liberation Serif", size=26, color="black")
SANS = "DejaVu Sans"
LINE_W = 4
MARKER_D = 11

fig = go.Figure()

fig.add_trace(go.Scatter(
    x=benthic_age, y=benthic_d13c, mode="lines+markers",
    line=dict(color="#ff0000", width=LINE_W), marker=dict(color="#ff0000", size=MARKER_D),
    connectgaps=False, yaxis="y", showlegend=False, hoverinfo="skip"))

# shaded band drawn over the benthic series but under the planktonic one
fig.add_trace(go.Scatter(
    x=[band_age[0], band_age[1], band_age[1], band_age[0], band_age[0]],
    y=[band_d13c[0], band_d13c[0], band_d13c[1], band_d13c[1], band_d13c[0]],
    mode="lines", fill="toself", fillcolor="#add8e6",
    line=dict(width=0, color="#add8e6"), yaxis="y",
    showlegend=False, hoverinfo="skip"))

fig.add_trace(go.Scatter(
    x=planktonic_age, y=planktonic_d13c, mode="lines+markers",
    line=dict(color="#0000ff", width=LINE_W), marker=dict(color="#0000ff", size=MARKER_D),
    yaxis="y2", showlegend=False, hoverinfo="skip"))

fig.add_shape(type="line", xref="x", yref="paper", x0=event_age, x1=event_age,
              y0=0, y1=1, line=dict(color="#1f77b4", width=3.5), layer="above")

# arrow (black outline, blue head)
fig.add_annotation(x=arrow_tip[0], y=arrow_tip[1], ax=arrow_tail[0], ay=arrow_tail[1],
                   xref="x", yref="y", axref="x", ayref="y", text="",
                   showarrow=True, arrowhead=2, arrowsize=2.3, arrowwidth=2,
                   arrowcolor="black")
fig.add_annotation(x=arrow_tip[0] + 0.009, y=arrow_tip[1] + 0.009, ax=14, ay=-8,
                   xref="x", yref="y", axref="pixel", ayref="pixel", text="",
                   showarrow=True, arrowhead=2, arrowsize=1.6, arrowwidth=1.8,
                   arrowcolor="#1f77b4")

fig.add_annotation(x=label_pos[0], y=label_pos[1], xref="x", yref="y",
                   text="LMCIS", showarrow=False, textangle=-30,
                   font=dict(family=SANS, size=23, color="black"))
fig.add_annotation(x=panel_pos[0], y=panel_pos[1], xref="x", yref="y",
                   text="a)", showarrow=False,
                   font=dict(family="Liberation Serif", size=26, color="black"))

axis_common = dict(showline=True, linecolor="black", linewidth=1.8, ticks="outside",
                   ticklen=7, tickwidth=1.8, tickcolor="black", showgrid=False,
                   zeroline=False, tickfont=TICK_FONT, tickformat=".1f", automargin=False)

fig.update_layout(
    width=1403, height=583,
    margin=dict(l=123, r=91, t=12, b=45, autoexpand=False),
    paper_bgcolor="white", plot_bgcolor="white",
    xaxis=dict(range=[5.0, 9.0], tickvals=x_ticks, mirror=True, ticklabelstandoff=-5,
               **axis_common),
    yaxis=dict(range=[-1.234, 1.839], tickvals=left_ticks, ticklabelstandoff=8,
               title=dict(text="Benthic <i>δ</i><sup>13</sup>C ‰",
                          font=dict(family=SANS, size=22, color="#ff0000"), standoff=17),
               **axis_common),
    yaxis2=dict(range=[-0.061, 2.925], tickvals=right_ticks, overlaying="y", side="right",
                ticklabelstandoff=7,
                title=dict(text="Planktonic <i>δ</i><sup>13</sup>C ‰",
                           font=dict(family=SANS, size=22, color="#0000ff"), standoff=10),
                **axis_common),
)

# place the figure at the page origin so it fills the 1403x583 window exactly
fig.write_html("out.html",
               config={"displayModeBar": False, "staticPlot": True},
               post_script="document.body.style.margin='0';document.body.style.overflow='hidden';")
